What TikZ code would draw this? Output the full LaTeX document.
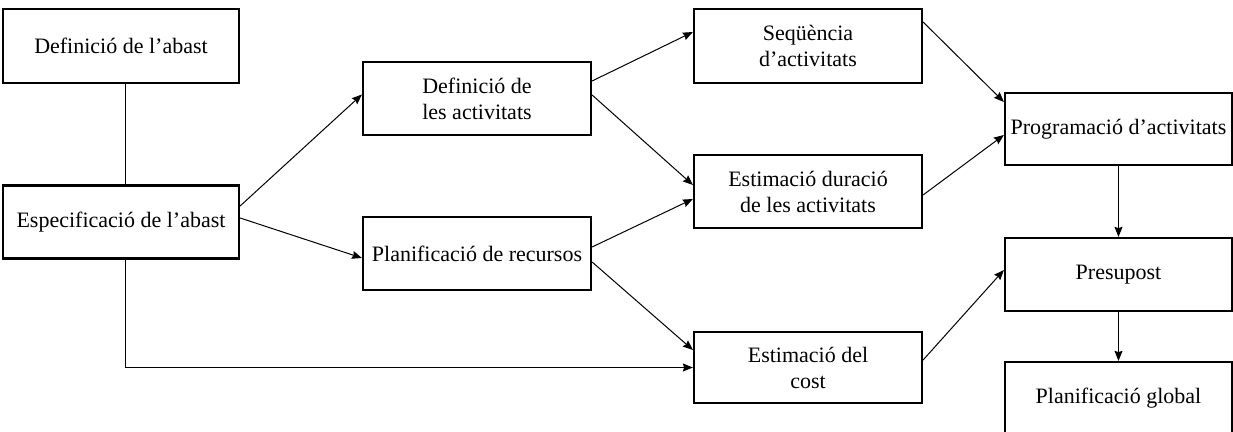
\documentclass[tikz,border=0pt]{standalone}
\usepackage{fontspec}
\setmainfont{Liberation Serif}
\usetikzlibrary{arrows.meta}
\usetikzlibrary{positioning}
\tikzset{
    taskbox/.style={
           rectangle,
           draw=black, line width=1.1pt,
           minimum width=114pt,
           minimum height=36.5pt,
           inner sep=2pt,
           align=center,
           font=\fontsize{11}{13}\selectfont,
           },
    link/.style={line width=0.5pt},
}

\begin{document}
\begin{tikzpicture}[->,>={Stealth[length=5pt,width=4pt,inset=0.6pt]}]
      \useasboundingbox (0,0) rectangle (616.5pt,-216pt);

      % SCOPE (left column)
      \node[taskbox,
          minimum width=118pt,
          minimum height=37pt,
          anchor=center] (ABAST_DEF) at (60.5pt,-23pt)
      {Definició de l’abast};

      \node[taskbox,
          minimum width=118pt,
          below of=ABAST_DEF,
          node distance=88pt,
          anchor=center] (ABAST_ESP)
      {Especificació de l’abast};

      % ACTIVITIES / RESOURCES
      \node[taskbox,
          right of=ABAST_ESP,
          node distance=178pt,
          yshift=61.75pt,
          anchor=center] (ACT_DEF)
      {Definició de\\les activitats};

      \node[taskbox,
          below of=ACT_DEF,
          node distance=77.5pt,
          anchor=center] (REC_PLAN)
      {Planificació de recursos};

      % SEQUENCE, DURATION, COST
      \node[taskbox,
          right of=ACT_DEF,
          node distance=165.5pt,
          yshift=26.25pt,
          minimum height=37pt,
          anchor=center] (ACT_SEQ)
      {Seqüència\\d’activitats};

      \node[taskbox,
          below of=ACT_SEQ,
          node distance=72.75pt,
          anchor=center] (ACT_DUR)
      {Estimació duració\\de les activitats};

      \node[taskbox,
          below of=ACT_DUR,
          node distance=88pt,
          minimum height=35.5pt,
          anchor=center] (COST_EST)
      {Estimació del\\cost};

      % RIGHT COLUMN
      \node[taskbox,
          minimum width=113.5pt,
          minimum height=36pt,
          right of=ACT_SEQ,
          node distance=155.25pt,
          yshift=-41.5pt,
          anchor=center] (ACT_PROG)
      {Programació d’activitats};

      \node[taskbox,
          minimum width=113.5pt,
          below of=ACT_PROG,
          node distance=72.75pt,
          anchor=center] (PRESSUPOST)
      {Presupost};

      \node[taskbox,
          minimum width=113.5pt,
          minimum height=36pt,
          below of=PRESSUPOST,
          node distance=61.75pt,
          anchor=center] (PLAN_GLOBAL)
      {Planificació global};

      % connectors
      \draw[link,-] ([xshift=2pt]ABAST_DEF.south) -- ([xshift=2pt]ABAST_ESP.north);
      \draw[link] ([xshift=2pt]ABAST_ESP.south) |- (COST_EST.west);

      \path[link]
      ([yshift=8pt]ABAST_ESP.east)   edge ([yshift=2pt]ACT_DEF.west)
      ([yshift=2pt]ABAST_ESP.east)   edge ([yshift=-2.25pt]REC_PLAN.west)
      ([yshift=8.75pt]ACT_DEF.east)  edge ([yshift=7pt]ACT_SEQ.west)
      ([yshift=1.75pt]ACT_DEF.east)  edge ([yshift=3.25pt]ACT_DUR.west)
      ([yshift=3.25pt]REC_PLAN.east) edge ([yshift=-3.75pt]ACT_DUR.west)
      ([yshift=-4.25pt]REC_PLAN.east) edge ([yshift=8.75pt]COST_EST.west)
      ([yshift=12pt]ACT_SEQ.east)    edge ([yshift=13.5pt]ACT_PROG.west)
      ([yshift=-1.75pt]ACT_DUR.east) edge ([yshift=-3pt]ACT_PROG.west)
      ([yshift=3.75pt]COST_EST.east) edge ([yshift=2.25pt]PRESSUPOST.west)
      (ACT_PROG.south)               edge (PRESSUPOST.north)
      (PRESSUPOST.south)             edge (PLAN_GLOBAL.north)
      ;

\end{tikzpicture}
\end{document}
